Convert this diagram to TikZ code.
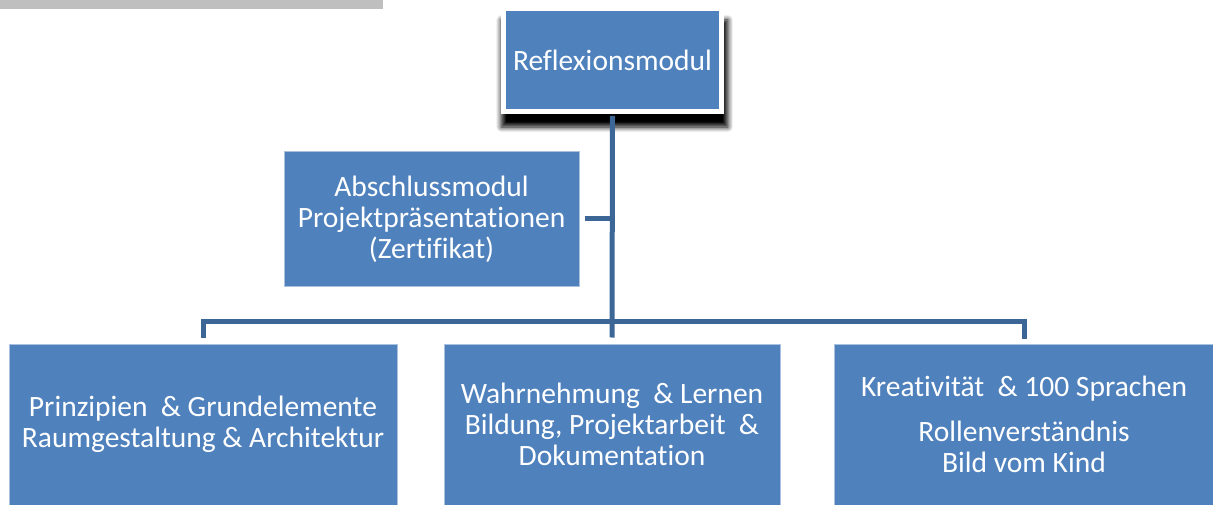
\documentclass[tikz,border=0pt]{standalone}
\usepackage{fontspec}
\setmainfont{Carlito}[Ligatures=NoCommon]
\usepackage{tikz}
\usetikzlibrary{positioning, shadows.blur}
\definecolor{boxblue}{HTML}{4F81BD}
\definecolor{boxedge}{HTML}{A9C0DE}
\definecolor{linkblue}{HTML}{3C6696}
\definecolor{bargray}{HTML}{BFBFBF}

\begin{document}
\begin{tikzpicture}[
    x=1pt, y=-1pt,
    % box style for all modules
    module/.style={rectangle, fill=boxblue, draw=boxedge, line width=1pt,
        text=white, align=center, inner sep=0pt,
        font=\fontsize{29.5}{31}\selectfont},
    lowbox/.style={module, minimum height=161pt},
    link/.style={draw=linkblue, line width=5pt}
]
    \useasboundingbox (0,0) rectangle (1213,505);

    % --- GREY BAR ---
    \fill[bargray] (0,0) rectangle (383,9);

    % --- TOP ---
    \node (refl) [module, draw=white, line width=5pt, minimum width=218pt, minimum height=103pt,
        blur shadow={shadow xshift=2pt, shadow yshift=-13pt, shadow blur radius=5pt,
            shadow scale=1.04, shadow blur steps=8, shadow opacity=100}]
        at (612.5,60) {Reflexionsmodul};
    \node (absch) [module, minimum width=295pt, minimum height=134pt] at (431.5,219)
        {Abschlussmodul\\Projektpräsentationen\\(Zertifikat)};

    % --- BOTTOM ROW ---
    \node (wahr) [lowbox, minimum width=336pt] at (612,424.5)
        {Wahrnehmung~ \& Lernen\\Bildung, Projektarbeit~ \&\\Dokumentation};
    \node (prinz) [lowbox, minimum width=388pt, left=46pt of wahr]
        {Prinzipien~ \& Grundelemente\\Raumgestaltung \& Architektur};
    \node (krea) [lowbox, minimum width=380pt, right=53pt of wahr]
        {Kreativität~ \& 100 Sprachen\\[14pt]Rollenverständnis\\Bild vom Kind};

    % --- CONNECTORS ---
    \coordinate (hub) at (612,321);
    \draw[link, shorten <=2pt, shorten >=6pt] (refl.south) -- (wahr.north);
    \draw[link, shorten <=5pt] (absch.east) -- (absch.east -| refl.south);
    \draw[link, shorten <=6pt, shorten >=5pt] (prinz.north) |- (hub) -| (krea.north);

\end{tikzpicture}
\end{document}
